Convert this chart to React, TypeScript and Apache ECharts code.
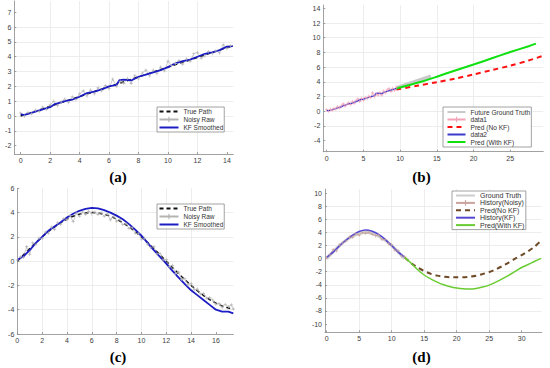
import React, { useEffect, useRef } from "react";
import * as echarts from "echarts";

// ---------- Panel (a): straight-line path ----------
const aTicksX = [0, 2, 4, 6, 8, 10, 12, 14];
const aTicksY = [-2, -1, 0, 1, 2, 3, 4, 5, 6, 7];
const aTrue: number[][] = [[0, 0], [14.4, 4.75]];
const aNoisy: number[][] = [
  [0, 0.2], [0.25, 0.0], [0.5, 0.25], [0.75, 0.15], [1, 0.4], [1.25, 0.3], [1.5, 0.6], [1.75, 0.45],
  [2, 0.75], [2.25, 1.0], [2.5, 0.7], [2.75, 0.95], [3, 1.15], [3.25, 0.9], [3.5, 1.3], [3.75, 1.1],
  [4, 1.5], [4.25, 1.7], [4.5, 1.35], [4.75, 1.75], [5, 1.5], [5.25, 1.9], [5.5, 1.7], [5.75, 2.05],
  [6, 1.85], [6.25, 2.5], [6.5, 2.0], [6.75, 2.35], [7, 2.2], [7.25, 2.55], [7.5, 2.2], [7.75, 2.75],
  [8, 2.5], [8.25, 2.9], [8.5, 3.1], [8.75, 2.7], [9, 3.1], [9.25, 2.85], [9.5, 3.3], [9.75, 3.05],
  [10, 3.7], [10.25, 3.4], [10.5, 3.55], [10.75, 3.75], [11, 3.5], [11.25, 3.85], [11.5, 3.7], [11.75, 4.2],
  [12, 4.3], [12.25, 3.9], [12.5, 4.05], [12.75, 4.35], [13, 4.2], [13.25, 4.4], [13.5, 4.25], [13.75, 4.8],
  [14, 4.55], [14.25, 4.75],
];
const aKF: number[][] = [
  [0, 0.15], [0.2, 0.06], [0.5, 0.15], [1, 0.3], [1.5, 0.45], [2, 0.6], [2.3, 0.8], [2.5, 0.85], [3, 1.0],
  [3.5, 1.1], [4, 1.3], [4.5, 1.55], [5, 1.65], [5.5, 1.8], [6, 2.0], [6.5, 2.1], [6.7, 2.42],
  [7, 2.45], [7.5, 2.4], [8, 2.65], [8.5, 2.8], [9, 2.95], [9.5, 3.1], [10, 3.3], [10.5, 3.55],
  [11, 3.7], [11.5, 3.8], [12, 4.0], [12.5, 4.2], [13, 4.3], [13.5, 4.45], [14, 4.68], [14.4, 4.72],
];

// ---------- Panel (b): linear prediction ----------
const bTicksX = [0, 5, 10, 15, 20, 25];
const bTicksY = [-4, -2, 0, 2, 4, 6, 8, 10, 12, 14];
const bFutureTruth: number[][] = [[9.5, 3.15], [14.2, 4.75]];
const bHistNoisy: number[][] = aNoisy.filter((p) => p[0] <= 9.5);
const bHistKF: number[][] = aKF.filter((p) => p[0] <= 9.5);
const bPredNoKF: number[][] = [
  [9.5, 2.95], [12.5, 3.5], [15, 3.95], [17.5, 4.45], [20, 5.0], [22.5, 5.6], [25, 6.2], [27.5, 6.9], [29.5, 7.55],
];
const bPredKF: number[][] = [
  [9.5, 3.1], [12.5, 3.9], [15, 4.7], [17.5, 5.55], [20, 6.35], [22.5, 7.2], [25, 8.05], [27.5, 8.85], [28.5, 9.2],
];

// ---------- Panel (c): sine path ----------
const cTicksX = [0, 2, 4, 6, 8, 10, 12, 14, 16];
const cTicksY = [-6, -4, -2, 0, 2, 4, 6];
const cTrue: number[][] = [
  [0, 0], [0.5, 0.52], [1, 1.04], [1.5, 1.53], [2, 2.0], [2.5, 2.43], [3, 2.83], [3.5, 3.17], [4, 3.46],
  [4.5, 3.7], [5, 3.86], [5.5, 3.97], [6, 4.0], [6.5, 3.97], [7, 3.86], [7.5, 3.7], [8, 3.46], [8.5, 3.17],
  [9, 2.83], [9.5, 2.43], [10, 2.0], [10.5, 1.53], [11, 1.04], [11.5, 0.52], [12, 0], [12.5, -0.52],
  [13, -1.04], [13.5, -1.53], [14, -2.0], [14.5, -2.43], [15, -2.83], [15.5, -3.17], [16, -3.46],
  [16.5, -3.7], [17, -3.86], [17.4, -3.95],
];
const cNoisy: number[][] = [
  [0, 0.1], [0.25, 0.35], [0.5, 0.3], [0.75, 1.2], [1, 0.55], [1.25, 1.5], [1.5, 1.35], [1.75, 1.9],
  [2, 1.85], [2.25, 2.4], [2.5, 2.3], [2.75, 2.8], [3, 2.6], [3.25, 3.15], [3.5, 3.0], [3.75, 3.5],
  [4, 3.4], [4.25, 3.75], [4.5, 3.25], [4.75, 3.95], [5, 3.7], [5.25, 4.05], [5.5, 3.85], [5.75, 4.1],
  [6, 3.9], [6.25, 4.05], [6.5, 3.85], [6.75, 4.0], [7, 3.7], [7.25, 3.9], [7.5, 3.4], [7.75, 3.7],
  [8, 3.3], [8.25, 3.45], [8.5, 3.0], [8.75, 3.1], [9, 2.7], [9.25, 2.75], [9.5, 2.3], [9.75, 2.3],
  [10, 1.8], [10.25, 1.9], [10.5, 1.4], [10.75, 1.1], [11, 1.2], [11.25, 0.6], [11.5, 0.65], [11.75, 0.1],
  [12, 0.15], [12.25, -0.45], [12.5, -0.35], [12.75, -1.0], [13, -0.9], [13.25, -1.5], [13.5, -1.45],
  [13.75, -1.95], [14, -1.85], [14.25, -2.35], [14.5, -2.3], [14.75, -2.7], [15, -2.65], [15.25, -3.05],
  [15.5, -3.0], [15.75, -3.2], [16, -3.55], [16.25, -3.5], [16.5, -3.8], [16.75, -3.55], [17, -3.75],
  [17.25, -3.6], [17.4, -3.95],
];
const cKF: number[][] = [
  [0, 0.1], [0.5, 0.4], [1, 0.9], [1.5, 1.5], [2, 2.0], [2.5, 2.5], [3, 2.85], [3.5, 3.2], [4, 3.6],
  [4.5, 3.9], [5, 4.15], [5.5, 4.3], [6, 4.38], [6.5, 4.35], [7, 4.2], [7.5, 4.0], [8, 3.75], [8.5, 3.45],
  [9, 3.05], [9.5, 2.6], [10, 2.1], [10.5, 1.5], [11, 0.9], [11.5, 0.35], [12, -0.2], [12.5, -0.8],
  [13, -1.35], [13.5, -1.9], [14, -2.4], [14.5, -2.8], [15, -3.2], [15.5, -3.6], [16, -4.0],
  [16.5, -4.15], [17, -4.15], [17.4, -4.3],
];

// ---------- Panel (d): sine prediction ----------
const dTicksX = [0, 5, 10, 15, 20, 25, 30];
const dTicksY = [-10, -8, -6, -4, -2, 0, 2, 4, 6, 8, 10];
const dTruth: number[][] = [
  [0, 0], [1, 1.04], [2, 2.0], [3, 2.83], [4, 3.46], [5, 3.86], [6, 4.0], [7, 3.86], [8, 3.46],
  [9, 2.83], [10, 2.0], [11, 1.04], [12, 0],
];
const dHistNoisy: number[][] = [
  [0, 0.1], [0.5, 0.6], [1, 1.4], [1.5, 1.2], [2, 2.1], [2.5, 2.4], [3, 2.7], [3.5, 3.3], [4, 3.3],
  [4.5, 3.8], [5, 3.6], [5.5, 4.0], [6, 3.9], [6.5, 4.05], [7, 3.75], [7.5, 3.5], [8, 3.6], [8.5, 2.9],
  [9, 2.9], [9.5, 2.3], [10, 2.1], [10.5, 1.3], [11, 1.2], [11.5, 0.4], [12, 0.3],
];
const dHistKF: number[][] = [
  [0, 0.2], [1, 1.0], [2, 2.0], [3, 2.85], [4, 3.6], [5, 4.15], [6, 4.38], [7, 4.2], [8, 3.7],
  [9, 2.95], [10, 2.0], [11, 1.0], [12, 0.25],
];
const dPredNoKF: number[][] = [
  [12, 0.2], [13, -0.7], [14, -1.35], [15, -1.9], [16, -2.3], [17, -2.6], [18, -2.75], [19, -2.85],
  [20, -2.85], [21, -2.85], [22, -2.75], [23, -2.6], [24, -2.35], [25, -2.05], [26, -1.65], [27, -1.15],
  [28, -0.6], [29, 0.0], [30, 0.55], [31, 1.15], [32, 1.85], [33, 2.75],
];
const dPredKF: number[][] = [
  [12, 0.2], [13, -0.7], [14, -1.7], [15, -2.5], [16, -3.1], [17, -3.6], [18, -4.0], [19, -4.3],
  [20, -4.5], [21, -4.62], [22, -4.65], [23, -4.55], [24, -4.35], [25, -4.05], [26, -3.6], [27, -3.1],
  [28, -2.55], [29, -1.95], [30, -1.35], [31, -0.9], [32, -0.4], [33, 0.05],
];

const legendA = ["True Path", "Noisy Raw", "KF Smoothed"];
const legendB = ["Future Ground Truth", "data1", "Pred (No KF)", "data2", "Pred (With KF)"];
const legendD = ["Ground Truth", "History(Noisy)", "Pred(No KF)", "History(KF)", "Pred(With KF)"];
const markerNames = ["Noisy Raw", "data1", "History(Noisy)"];

const PLUS = "path://M4,0h2v4h4v2h-4v4h-2v-4h-4v-2h4z";
const FONT = "Liberation Sans";
const AXIS_COLOR = "#8a8a8a";

function mkAxis(gridIndex: number, min: number, max: number, ticks: number[], isX: boolean) {
  return {
    type: "value",
    gridIndex,
    min,
    max,
    position: isX ? "bottom" : "left",
    axisLine: { show: true, onZero: false, lineStyle: { color: AXIS_COLOR, width: 0.8 } },
    axisTick: { show: true, inside: true, length: 2, customValues: ticks, lineStyle: { color: AXIS_COLOR, width: 0.8 } },
    axisLabel: { customValues: ticks, fontSize: 7, color: "#3c3c3c", fontFamily: FONT, margin: 3 },
    splitLine: { show: true, showMinLine: false, showMaxLine: false, lineStyle: { color: "#e9e9e9", width: 0.8 } },
  };
}

function line(name: string, idx: number, data: number[][], color: string, width: number, extra: any = {}) {
  return {
    type: "line",
    name,
    xAxisIndex: idx,
    yAxisIndex: idx,
    data,
    symbol: "none",
    clip: true,
    smooth: extra.smooth || false,
    lineStyle: { color, width, ...(extra.lineStyle || {}) },
    itemStyle: { color },
    emphasis: { disabled: true },
  };
}

function noisy(name: string, idx: number, data: number[][], color: string) {
  return {
    type: "line",
    name,
    xAxisIndex: idx,
    yAxisIndex: idx,
    data,
    symbol: PLUS,
    symbolSize: 3.2,
    showSymbol: true,
    clip: true,
    lineStyle: { color, width: 0.7 },
    itemStyle: { color },
    emphasis: { disabled: true },
  };
}

function legend(left: number, top: number, names: string[], itemWidth: number, fontSize: number, padding: number[], gap: number) {
  return {
    orient: "vertical",
    left,
    top,
    data: names.map((n) =>
      markerNames.includes(n) ? { name: n, itemStyle: { opacity: 1 } } : { name: n }
    ),
    itemWidth,
    itemHeight: 7,
    itemGap: gap,
    padding,
    selectedMode: false,
    borderColor: AXIS_COLOR,
    borderWidth: 0.8,
    borderRadius: 0,
    backgroundColor: "#ffffff",
    itemStyle: { opacity: 0 },
    textStyle: { fontSize, color: "#333333", fontFamily: FONT, lineHeight: 7 },
  };
}

function label(text: string, x: number, y: number) {
  return {
    type: "text",
    x,
    y,
    style: { text, font: 'bold 15px "Liberation Serif"', fill: "#000", align: "center", verticalAlign: "middle" },
  };
}

export default function App() {
  const ref = useRef<HTMLDivElement>(null);
  useEffect(() => {
    if (!ref.current) return;
    const chart = echarts.init(ref.current, undefined, { renderer: "svg" });
    const option: any = {
      animation: false,
      backgroundColor: "#ffffff",
      grid: [
        { left: 14.3, top: 1, width: 219, height: 153, outerBoundsMode: "none" },
        { left: 323.3, top: 5, width: 220, height: 146.7, outerBoundsMode: "none" },
        { left: 17.3, top: 188.3, width: 216, height: 145.7, outerBoundsMode: "none" },
        { left: 325, top: 189, width: 216.7, height: 143.3, outerBoundsMode: "none" },
      ],
      xAxis: [
        mkAxis(0, -0.43, 14.43, aTicksX, true),
        mkAxis(1, -0.46, 29.5, bTicksX, true),
        mkAxis(2, 0, 17.4, cTicksX, true),
        mkAxis(3, -0.25, 33.08, dTicksX, true),
      ],
      yAxis: [
        mkAxis(0, -2.56, 7.76, aTicksY, false),
        mkAxis(1, -5.5, 14.45, bTicksY, false),
        mkAxis(2, -6, 6, cTicksY, false),
        mkAxis(3, -11.27, 10.66, dTicksY, false),
      ],
      legend: [
        legend(157, 107, legendA, 19, 6.5, [1, 1, 1, 1.5], 1),
        legend(443, 107, legendB, 18, 6.6, [1.5, 1, 1.5, 3.5], 0.5),
        legend(157, 204, legendA, 19, 6.5, [1, 1, 1, 1.5], 1),
        legend(452, 191, legendD, 19, 7, [1, 1.5, 1, 3], 0.4),
      ],
      series: [
        // (a)
        line("True Path", 0, aTrue, "#111111", 1.5, { lineStyle: { type: [4, 3] } }),
        noisy("Noisy Raw", 0, aNoisy, "#b4b4b4"),
        line("KF Smoothed", 0, aKF, "#1c1cc4", 1.8),
        // (b)
        line("Future Ground Truth", 1, bFutureTruth, "#c9c9c9", 4),
        noisy("data1", 1, bHistNoisy, "#f2a2b6"),
        line("Pred (No KF)", 1, bPredNoKF, "#ff1010", 2, { lineStyle: { type: [5, 4] }, smooth: 0.3 }),
        line("data2", 1, bHistKF, "#3a3acc", 1.3),
        line("Pred (With KF)", 1, bPredKF, "#10e010", 2, { smooth: 0.3 }),
        // (c)
        line("True Path", 2, cTrue, "#111111", 1.5, { lineStyle: { type: [4, 3] } }),
        noisy("Noisy Raw", 2, cNoisy, "#b4b4b4"),
        line("KF Smoothed", 2, cKF, "#1c1cc4", 1.8),
        // (d)
        line("Ground Truth", 3, dTruth, "#cdcdcd", 3, { smooth: 0.3 }),
        noisy("History(Noisy)", 3, dHistNoisy, "#c9a49c"),
        line("Pred(No KF)", 3, dPredNoKF, "#6e4a28", 2, { lineStyle: { type: [5, 4] }, smooth: 0.3 }),
        line("History(KF)", 3, dHistKF, "#5246d2", 1.5, { smooth: 0.3 }),
        line("Pred(With KF)", 3, dPredKF, "#6acc32", 1.5, { smooth: 0.3 }),
      ],
      graphic: [
        label("(a)", 118, 177),
        label("(b)", 421.5, 177),
        label("(c)", 118, 357),
        label("(d)", 421.5, 357),
      ],
    };
    chart.setOption(option);
    return () => chart.dispose();
  }, []);
  return (
    <div
      ref={ref}
      style={{ position: "absolute", left: 0, top: 0, width: 550, height: 368, background: "#fff" }}
    />
  );
}
